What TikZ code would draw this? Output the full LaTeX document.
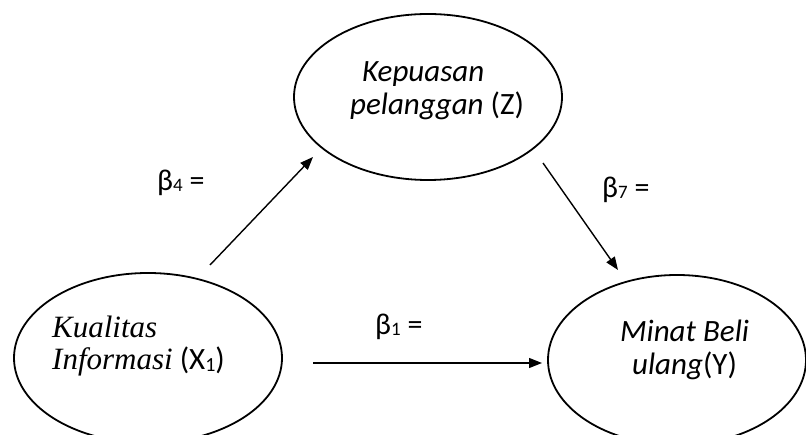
\documentclass[tikz,border=0pt]{standalone}
\usepackage{fontspec}
\setmainfont{Carlito}
\newfontfamily\tnr{Liberation Serif}
\usetikzlibrary{arrows.meta,shapes.geometric}
\begin{document}
\begin{tikzpicture}[x=1pt,y=-1pt,
  oval/.style={draw,ellipse,line width=1.8pt,inner sep=0pt},
  lbl/.style={anchor=base west,inner sep=0pt,font=\fontsize{31}{31}\selectfont},
  beta/.style={anchor=base west,inner sep=0pt,font=\fontsize{30}{30}\selectfont},
  link/.style={line width=1.4pt,-{Triangle[length=13pt,width=10pt]}}
]
\useasboundingbox (0,0) rectangle (806,435);
\clip (0,0) rectangle (806,435);
% ellipses
\node[oval,minimum width=268pt,minimum height=166pt] (z) at (428,97) {};
\node[oval,minimum width=268pt,minimum height=170pt] (x) at (148,358) {};
\node[oval,minimum width=258pt,minimum height=170pt] (y) at (677,360) {};
% texts
\node[lbl] (z1) at (362,82) {\itshape Kepuasan};
\node[lbl] (z2) at (350,115) {\itshape pelanggan\upshape{} (Z)};
\node[lbl] (x1) at (52,338) {\fontsize{31}{31}\selectfont\tnr\itshape Kualitas};
\node[lbl] (x2) at (52,370) {{\fontsize{31}{31}\selectfont\tnr\itshape Informasi} (X\raisebox{-2pt}{\fontsize{20}{20}\selectfont 1})};
\node[lbl] (y1) at (620,342) {\itshape Minat Beli};
\node[lbl] (y2) at (632,375) {\itshape ulang\upshape(Y)};
% beta labels
\node[beta] (b4) at (157,191) {β\raisebox{-1pt}{\fontsize{19}{19}\selectfont 4} =};
\node[beta] (b7) at (602,198) {β\raisebox{-1pt}{\fontsize{19}{19}\selectfont 7} =};
\node[beta] (b1) at (375,335) {β\raisebox{-1pt}{\fontsize{19}{19}\selectfont 1} =};
% connectors
\coordinate (s4) at (210,265);
\coordinate (e4) at (313,157);
\coordinate (s7) at (543,163);
\coordinate (e7) at (618,270);
\coordinate (s1) at (313,363);
\coordinate (e1) at (542,363);
\draw[link] (s4) -- (e4);
\draw[link] (s7) -- (e7);
\draw[link] (s1) -- (e1);
\end{tikzpicture}
\end{document}
